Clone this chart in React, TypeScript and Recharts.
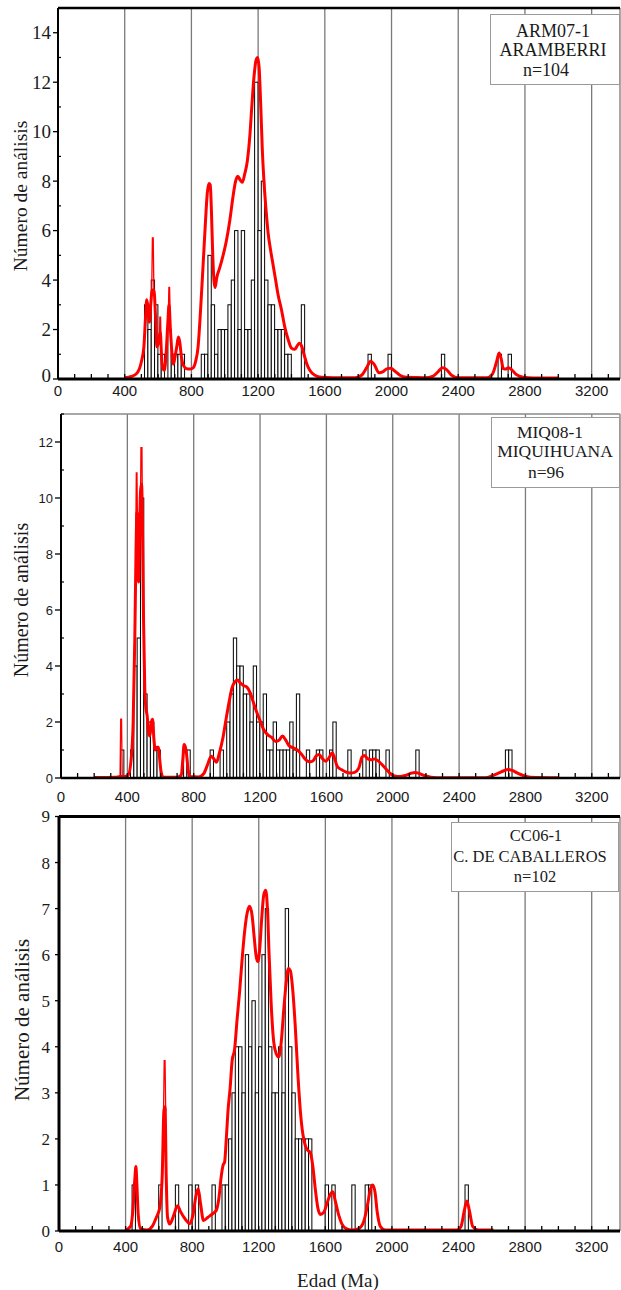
import React from 'react';
import { ComposedChart, Bar, Line, XAxis, YAxis, CartesianGrid, ReferenceLine } from 'recharts';

// ---------- shared axis data ----------
const X_MAX = 3370;
const BIN_WIDTH = 20;
const X_TICKS = [0, 100, 200, 300, 400, 500, 600, 700, 800, 900, 1000, 1100, 1200, 1300, 1400, 1500, 1600, 1700, 1800, 1900, 2000, 2100, 2200, 2300, 2400, 2500, 2600, 2700, 2800, 2900, 3000, 3100, 3200, 3300];
const X_LABELS = [0, 400, 800, 1200, 1600, 2000, 2400, 2800, 3200];
const GRID_X = [400, 800, 1200, 1600, 2000, 2400, 2800, 3200];
const Y_TITLE = 'Número de análisis';
const X_TITLE = 'Edad (Ma)';

// ---------- Panel 1: ARM07-1 ----------
const ARM_BOX = ['ARM07-1', 'ARAMBERRI', 'n=104'];
const ARM_Y_TICKS = [0, 1, 2, 3, 4, 5, 6, 7, 8, 9, 10, 11, 12, 13, 14, 15];
const ARM_BIN_AGES = [530, 550, 570, 590, 610, 630, 670, 690, 710, 730, 750, 870, 890, 910, 930, 950, 970, 990, 1010, 1030, 1050, 1070, 1090, 1110, 1130, 1150, 1170, 1190, 1210, 1230, 1250, 1270, 1290, 1310, 1330, 1350, 1370, 1390, 1470, 1870, 1990, 2310, 2650, 2710];
const ARM_BIN_COUNTS = [3, 2, 4, 3, 1, 1, 2, 1, 1, 1, 1, 1, 1, 5, 3, 1, 2, 2, 2, 3, 4, 6, 2, 6, 2, 2, 4, 12, 6, 8, 4, 3, 3, 2, 2, 2, 1, 1, 3, 1, 1, 1, 1, 1];
const ARM_PDP_AGES = [400, 440, 475, 500, 515, 525, 532, 540, 548, 556, 565, 575, 585, 593, 603, 613, 622, 630, 638, 648, 658, 666, 674, 684, 692, 702, 712, 722, 730, 740, 752, 770, 790, 810, 825, 840, 855, 870, 883, 895, 905, 913, 920, 927, 935, 942, 952, 970, 990, 1010, 1030, 1050, 1065, 1078, 1092, 1105, 1120, 1135, 1150, 1162, 1175, 1188, 1197, 1206, 1215, 1225, 1235, 1248, 1260, 1275, 1290, 1305, 1320, 1340, 1360, 1380, 1400, 1420, 1435, 1448, 1460, 1475, 1490, 1510, 1540, 1580, 1650, 1780, 1820, 1850, 1875, 1895, 1925, 1950, 1975, 1995, 2020, 2050, 2090, 2200, 2250, 2280, 2305, 2330, 2360, 2400, 2570, 2605, 2630, 2645, 2658, 2670, 2685, 2700, 2720, 2745, 2790, 2850, 3000];
const ARM_PDP_VALUES = [0.05, 0.1, 0.25, 0.7, 1.3, 2.5, 3.2, 2.9, 2.3, 3.0, 3.6, 3.6, 2.5, 1.3, 1.5, 1.9, 0.8, 0.4, 0.35, 1.0, 2.2, 3.0, 2.0, 1.0, 0.6, 0.9, 1.3, 1.7, 1.5, 0.9, 0.55, 0.42, 0.4, 0.45, 0.7, 1.3, 2.8, 4.6, 6.2, 7.5, 7.9, 7.85, 6.8, 5.2, 4.0, 3.7, 4.1, 4.5, 5.0, 5.6, 6.4, 7.4, 8.0, 8.2, 8.05, 7.95, 8.3, 8.8, 9.8, 11.0, 12.2, 12.9, 13.0, 12.6, 11.2, 9.3, 8.0, 6.8, 5.9, 5.2, 4.6, 4.0, 3.4, 2.8, 2.1, 1.6, 1.25, 1.2, 1.35, 1.45, 1.35, 1.0, 0.65, 0.35, 0.15, 0.07, 0.05, 0.05, 0.15, 0.45, 0.72, 0.6, 0.25, 0.3, 0.42, 0.43, 0.32, 0.15, 0.07, 0.05, 0.12, 0.3, 0.45, 0.38, 0.15, 0.05, 0.05, 0.2, 0.7, 1.05, 0.8, 0.42, 0.4, 0.45, 0.38, 0.2, 0.07, 0.04, 0.04];
const ARM_SPIKE_AGES = [562, 566, 571, 575, 590, 608, 611, 615, 618, 640, 662, 665, 669, 672];
const ARM_SPIKE_VALUES = [3.6, 5.7, 5.7, 3.6, null, 1.6, 2.5, 2.5, 1.6, null, 2.8, 3.7, 3.7, 2.8];

// ---------- Panel 2: MIQ08-1 ----------
const MIQ_BOX = ['MIQ08-1', 'MIQUIHUANA', 'n=96'];
const MIQ_Y_TICKS = [0, 1, 2, 3, 4, 5, 6, 7, 8, 9, 10, 11, 12, 13];
const MIQ_BIN_AGES = [370, 430, 450, 470, 490, 510, 530, 550, 570, 590, 750, 770, 910, 970, 1010, 1030, 1050, 1070, 1090, 1110, 1130, 1150, 1170, 1190, 1210, 1230, 1250, 1270, 1290, 1310, 1330, 1350, 1370, 1390, 1410, 1430, 1490, 1550, 1570, 1630, 1650, 1740, 1830, 1870, 1890, 1910, 1970, 2150, 2690, 2710];
const MIQ_BIN_COUNTS = [1, 1, 4, 5, 10, 3, 2, 2, 1, 1, 1, 1, 1, 1, 2, 3, 5, 4, 4, 3, 3, 2, 4, 2, 2, 3, 1, 1, 2, 1, 1, 1, 1, 2, 1, 3, 1, 1, 1, 1, 2, 1, 1, 1, 1, 1, 1, 1, 1, 1];
const MIQ_PDP_AGES = [200, 330, 355, 380, 405, 425, 435, 445, 452, 458, 463, 468, 474, 480, 486, 492, 498, 505, 512, 520, 528, 536, 545, 552, 560, 568, 578, 588, 596, 604, 615, 700, 725, 735, 742, 750, 758, 766, 775, 830, 860, 885, 905, 920, 937, 955, 975, 995, 1013, 1030, 1050, 1065, 1080, 1100, 1120, 1140, 1160, 1180, 1200, 1220, 1245, 1270, 1295, 1315, 1335, 1355, 1375, 1400, 1425, 1450, 1475, 1500, 1520, 1540, 1555, 1575, 1595, 1615, 1635, 1650, 1665, 1690, 1715, 1745, 1770, 1795, 1815, 1830, 1850, 1870, 1890, 1910, 1935, 1960, 1985, 2010, 2045, 2080, 2110, 2135, 2160, 2190, 2230, 2300, 2560, 2600, 2640, 2670, 2695, 2720, 2750, 2790, 2830, 3000];
const MIQ_PDP_VALUES = [0.02, 0.03, 0.05, 0.05, 0.1, 0.8, 2.0, 5.0, 8.0, 9.5, 8.5, 7.0, 9.0, 10.3, 10.5, 8.5, 5.5, 3.2, 2.5, 2.2, 1.6, 1.5, 2.0, 2.1, 1.4, 1.0, 1.1, 1.1, 0.6, 0.2, 0.04, 0.03, 0.1, 0.7, 1.2, 1.1, 0.8, 0.3, 0.05, 0.04, 0.15, 0.5, 0.78, 0.7, 0.56, 0.9, 1.4, 2.1, 2.7, 3.2, 3.45, 3.5, 3.4, 3.3, 3.25, 3.05, 2.7, 2.35, 2.05, 1.75, 1.55, 1.45, 1.3, 1.35, 1.5, 1.35, 1.15, 1.08, 1.0, 0.85, 0.66, 0.58, 0.62, 0.8, 0.84, 0.7, 0.6, 0.72, 0.9, 0.7, 0.42, 0.3, 0.22, 0.18, 0.2, 0.35, 0.75, 0.8, 0.68, 0.65, 0.68, 0.62, 0.48, 0.32, 0.16, 0.07, 0.05, 0.1, 0.17, 0.2, 0.16, 0.09, 0.03, 0.01, 0.01, 0.08, 0.18, 0.26, 0.3, 0.27, 0.18, 0.08, 0.03, 0.01];
const MIQ_SPIKE_AGES = [356, 360, 365, 369, 410, 450, 454, 458, 462, 470, 480, 482, 488, 492];
const MIQ_SPIKE_VALUES = [0.1, 2.1, 2.1, 0.1, null, 8.0, 10.9, 10.9, 8.5, null, 10.3, 11.8, 11.8, 8.5];

// ---------- Panel 3: CC06-1 ----------
const CC_BOX = ['CC06-1', 'C. DE CABALLEROS', 'n=102'];
const CC_Y_TICKS = [0, 1, 2, 3, 4, 5, 6, 7, 8, 9];
const CC_BIN_AGES = [450, 610, 710, 790, 830, 930, 990, 1010, 1030, 1050, 1070, 1090, 1110, 1130, 1150, 1170, 1190, 1210, 1230, 1250, 1270, 1290, 1310, 1330, 1350, 1370, 1390, 1410, 1430, 1450, 1470, 1490, 1510, 1610, 1650, 1770, 1850, 1870, 2450];
const CC_BIN_COUNTS = [1, 1, 1, 1, 1, 1, 1, 1, 2, 3, 4, 4, 3, 6, 4, 5, 3, 4, 6, 7, 4, 3, 3, 4, 3, 7, 4, 3, 2, 2, 2, 2, 2, 1, 1, 1, 1, 1, 1];
const CC_PDP_AGES = [400, 430, 445, 455, 462, 468, 476, 490, 530, 560, 585, 605, 620, 630, 637, 644, 652, 665, 690, 712, 730, 760, 785, 805, 822, 836, 850, 868, 895, 925, 945, 960, 975, 985, 995, 1005, 1015, 1028, 1040, 1055, 1070, 1085, 1100, 1115, 1130, 1145, 1160, 1172, 1185, 1195, 1205, 1218, 1230, 1242, 1252, 1262, 1275, 1290, 1305, 1320, 1335, 1350, 1365, 1378, 1390, 1405, 1420, 1435, 1450, 1465, 1480, 1495, 1510, 1525, 1540, 1555, 1570, 1590, 1610, 1630, 1645, 1660, 1680, 1700, 1725, 1760, 1800, 1830, 1855, 1870, 1885, 1898, 1912, 1930, 1960, 2000, 2390, 2415, 2435, 2450, 2465, 2485, 2520, 2610];
const CC_PDP_VALUES = [0.02, 0.1, 0.5, 1.1, 1.4, 1.0, 0.35, 0.05, 0.02, 0.1, 0.3, 0.5, 1.2, 2.6, 2.7, 1.2, 0.3, 0.15, 0.35, 0.55, 0.42, 0.25, 0.16, 0.35, 0.75, 0.92, 0.6, 0.23, 0.3, 0.38, 0.45, 0.7, 1.2, 1.42, 1.5, 2.0, 2.6, 3.1, 3.7, 3.95, 4.6, 5.2, 5.9, 6.5, 6.9, 7.05, 6.85, 6.4, 5.95, 5.85, 6.1, 6.8, 7.3, 7.4, 7.0, 6.0, 4.9, 4.1, 3.85, 3.78, 4.1, 4.8, 5.4, 5.7, 5.65, 5.2, 4.4, 3.4, 2.6, 2.1, 1.85, 1.75, 1.7, 1.4, 0.9, 0.5, 0.36, 0.4, 0.6, 0.8, 0.85, 0.65, 0.35, 0.15, 0.05, 0.02, 0.05, 0.2, 0.6, 0.9, 1.0, 0.85, 0.4, 0.1, 0.02, 0.02, 0.02, 0.1, 0.45, 0.65, 0.45, 0.1, 0.02, 0.02];
const CC_SPIKE_AGES = [628, 632, 637, 641];
const CC_SPIKE_VALUES = [2.6, 3.7, 3.7, 2.6];

const SERIF = '"Liberation Serif", "Times New Roman", serif';
const SANS = '"Liberation Sans", Arial, sans-serif';
const CHART_W = 621;
const MARGIN_RIGHT = 1;

type Cfg = {
  top: number; height: number; mTop: number; yAxisW: number; xAxisH: number; yMax: number;
  yTicks: number[]; labelEvery: number; yFont: string; ySize: number; yGap: number; majorLen: number; minorLen: number;
  xStroke: number; yStroke: number; topColor: string; topStroke: number; xLabelDy: number; zeroDy: number;
};

function Panel(props: { cfg: Cfg; binAges: number[]; binCounts: number[]; pdpAges: number[]; pdpValues: number[]; spikeAges: number[]; spikeValues: (number | null)[] }) {
  const { cfg } = props;
  const bars = props.binAges.map((a, i) => ({ age: a, n: props.binCounts[i] }));
  const pdp = props.pdpAges.map((a, i) => ({ age: a, v: props.pdpValues[i] }));
  const spikes = props.spikeAges.map((a, i) => ({ age: a, v: props.spikeValues[i] }));
  const axisY = cfg.height - cfg.xAxisH;
  const axisX = cfg.yAxisW;
  const plotW = CHART_W - MARGIN_RIGHT - cfg.yAxisW;
  const binPx = (plotW * BIN_WIDTH) / X_MAX;

  const xTick = (p: any) => {
    const v = p.payload.value;
    const isLabel = X_LABELS.indexOf(v) >= 0;
    return (
      <g>
        <line x1={p.x} x2={p.x} y1={axisY} y2={axisY - 5} stroke="#000" strokeWidth={1.3} />
        {isLabel ? (
          <text x={p.x} y={axisY + cfg.xLabelDy} textAnchor="middle" fontFamily={SANS} fontSize={15} fill="#1a1a1a">{v}</text>
        ) : null}
      </g>
    );
  };

  const yTick = (p: any) => {
    const v = p.payload.value;
    const major = v % cfg.labelEvery === 0;
    return (
      <g>
        {major ? (
          <line x1={axisX - cfg.majorLen} x2={axisX} y1={p.y} y2={p.y} stroke="#000" strokeWidth={1.3} />
        ) : (
          <line x1={axisX} x2={axisX + cfg.minorLen} y1={p.y} y2={p.y} stroke="#000" strokeWidth={1.2} />
        )}
        {major ? (
          <text x={axisX - cfg.yGap} y={p.y + (v === 0 ? cfg.zeroDy : 0)} dy="0.35em" textAnchor="end" fontFamily={cfg.yFont} fontSize={cfg.ySize} fill="#1a1a1a">{v}</text>
        ) : null}
      </g>
    );
  };

  const barShape = (p: any) => {
    if (!p.height || p.height <= 0) return <g />;
    const cx = p.x + p.width / 2;
    return <rect x={cx - binPx / 2} y={p.y} width={binPx} height={p.height} fill="#ffffff" stroke="#000" strokeWidth={1} />;
  };

  return (
    <div style={{ position: 'absolute', left: 0, top: cfg.top, width: CHART_W, height: cfg.height }}>
      <ComposedChart width={CHART_W} height={cfg.height} data={bars} margin={{ top: cfg.mTop, right: MARGIN_RIGHT, bottom: 0, left: 0 }} barCategoryGap={0} barGap={0} style={{ overflow: 'visible' }}>
        <XAxis xAxisId="g" type="number" dataKey="age" domain={[0, X_MAX]} ticks={GRID_X} hide allowDataOverflow />
        <CartesianGrid xAxisId="g" horizontal={false} vertical stroke="#7a7a7a" strokeWidth={1.3} />
        <XAxis type="number" dataKey="age" domain={[0, X_MAX]} ticks={X_TICKS} interval={0} allowDataOverflow height={cfg.xAxisH} tickLine={false} axisLine={{ stroke: '#000', strokeWidth: cfg.xStroke }} tick={xTick} />
        <YAxis type="number" domain={[0, cfg.yMax]} ticks={cfg.yTicks} interval={0} allowDataOverflow width={cfg.yAxisW} tickLine={false} axisLine={{ stroke: '#000', strokeWidth: cfg.yStroke }} tick={yTick} />
        <ReferenceLine y={cfg.yMax} stroke={cfg.topColor} strokeWidth={cfg.topStroke} />
        <Bar dataKey="n" shape={barShape} isAnimationActive={false} />
        <Line xAxisId="g" data={pdp} dataKey="v" type="monotone" stroke="#ff0000" strokeWidth={3} dot={false} isAnimationActive={false} />
        <Line xAxisId="g" data={spikes} dataKey="v" type="linear" stroke="#ff0000" strokeWidth={1.3} dot={false} connectNulls={false} isAnimationActive={false} />
      </ComposedChart>
    </div>
  );
}

function Txt(props: { x: number; y: number; size: number; text: string; rotate?: boolean }) {
  return (
    <div style={{ position: 'absolute', left: props.x, top: props.y, transform: `translate(-50%, -50%)${props.rotate ? ' rotate(-90deg)' : ''}`, fontFamily: SERIF, fontSize: props.size, lineHeight: 1, whiteSpace: 'nowrap', color: '#1a1a1a' }}>
      {props.text}
    </div>
  );
}

function Box(props: { left: number; top: number; w: number; h: number; lines: string[]; cx: number[]; cy: number[]; size: number }) {
  return (
    <>
      <div style={{ position: 'absolute', left: props.left, top: props.top, width: props.w, height: props.h, border: '1px solid #9a9a9a', background: '#fff', boxSizing: 'border-box' }} />
      {props.lines.map((t, i) => <Txt key={i} x={props.cx[i]} y={props.cy[i]} size={props.size} text={t} />)}
    </>
  );
}

const CFG1: Cfg = { top: 0, height: 410, mTop: 8, yAxisW: 58, xAxisH: 31, yMax: 15, yTicks: ARM_Y_TICKS, labelEvery: 2, yFont: SERIF, ySize: 19, yGap: 7, majorLen: 5, minorLen: 3, xStroke: 3, yStroke: 2, topColor: '#000', topStroke: 2.5, xLabelDy: 17, zeroDy: -4 };
const CFG2: Cfg = { top: 410, height: 410, mTop: 4, yAxisW: 61, xAxisH: 42, yMax: 13, yTicks: MIQ_Y_TICKS, labelEvery: 2, yFont: SANS, ySize: 13, yGap: 8, majorLen: 6, minorLen: 3, xStroke: 2.5, yStroke: 2, topColor: '#8a8a8a', topStroke: 1.3, xLabelDy: 24, zeroDy: 0 };
const CFG3: Cfg = { top: 800, height: 490, mTop: 16.5, yAxisW: 59, xAxisH: 59, yMax: 9, yTicks: CC_Y_TICKS, labelEvery: 1, yFont: SERIF, ySize: 17, yGap: 9, majorLen: 4, minorLen: 3, xStroke: 3, yStroke: 3, topColor: '#000', topStroke: 3, xLabelDy: 21, zeroDy: 0 };

export default function App() {
  return (
    <div style={{ position: 'absolute', left: 0, top: 0, width: 621, height: 1290, background: '#fff', overflow: 'hidden' }}>
      <Panel cfg={CFG1} binAges={ARM_BIN_AGES} binCounts={ARM_BIN_COUNTS} pdpAges={ARM_PDP_AGES} pdpValues={ARM_PDP_VALUES} spikeAges={ARM_SPIKE_AGES} spikeValues={ARM_SPIKE_VALUES} />
      <Panel cfg={CFG3} binAges={CC_BIN_AGES} binCounts={CC_BIN_COUNTS} pdpAges={CC_PDP_AGES} pdpValues={CC_PDP_VALUES} spikeAges={CC_SPIKE_AGES} spikeValues={CC_SPIKE_VALUES} />
      <Panel cfg={CFG2} binAges={MIQ_BIN_AGES} binCounts={MIQ_BIN_COUNTS} pdpAges={MIQ_PDP_AGES} pdpValues={MIQ_PDP_VALUES} spikeAges={MIQ_SPIKE_AGES} spikeValues={MIQ_SPIKE_VALUES} />
      <Txt x={21} y={196} size={19.5} text={Y_TITLE} rotate />
      <Txt x={21} y={600} size={20} text={Y_TITLE} rotate />
      <Txt x={22} y={1020} size={21} text={Y_TITLE} rotate />
      <Txt x={338} y={1280} size={19} text={X_TITLE} />
      <Box left={490} top={14} w={130} h={71} lines={ARM_BOX} cx={[553, 553, 546]} cy={[31, 50, 70]} size={18} />
      <Box left={491} top={417} w={129} h={71} lines={MIQ_BOX} cx={[550, 555, 546]} cy={[433, 452, 473]} size={17.5} />
      <Box left={451} top={822} w={168} h={70} lines={CC_BOX} cx={[536, 530, 535]} cy={[836, 857, 877]} size={16.5} />
    </div>
  );
}
